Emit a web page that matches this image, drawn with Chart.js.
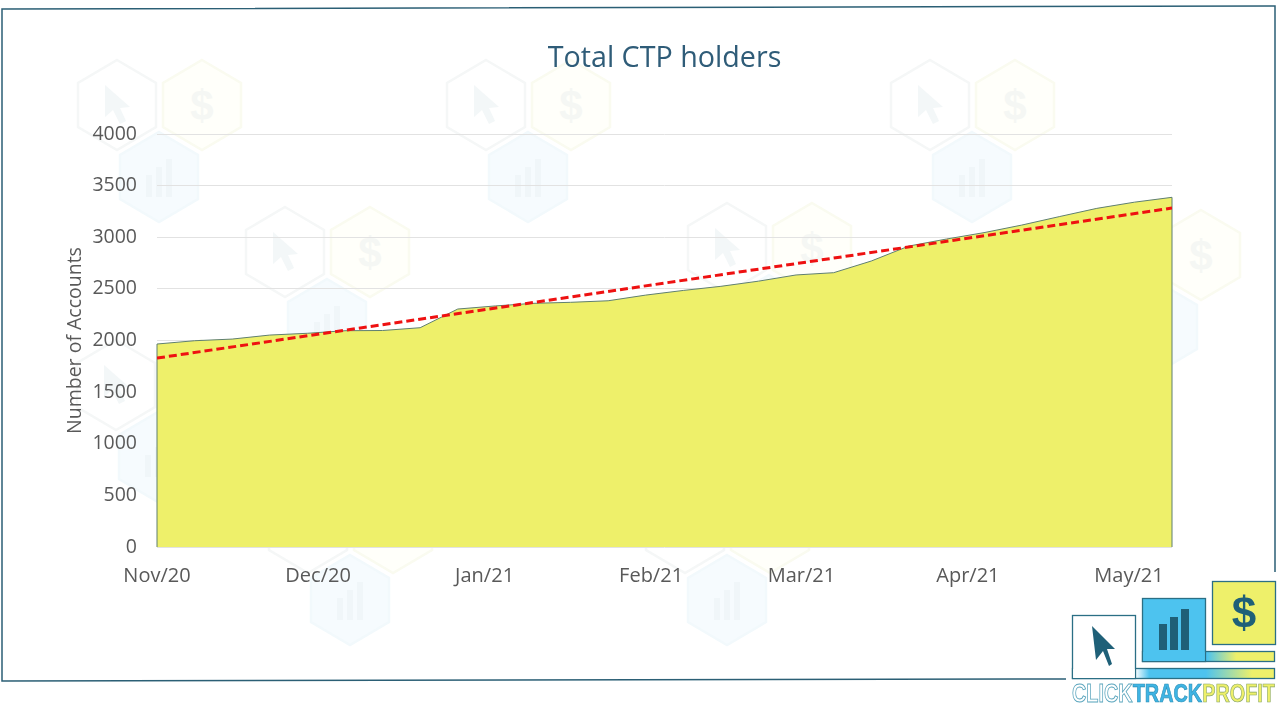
<!DOCTYPE html>
<html>
<head>
<meta charset="utf-8">
<title>Total CTP holders</title>
<script src="https://cdn.jsdelivr.net/npm/chart.js@4/dist/chart.umd.min.js"></script>
<style>
html,body{margin:0;padding:0;background:#fff;width:1280px;height:707px;overflow:hidden}
#bg,#fg{position:absolute;left:0;top:0}
#wrap{position:absolute;left:0;top:0;width:1280px;height:707px}
</style>
</head>
<body>
<svg id="bg" width="1280" height="707" viewBox="0 0 1280 707">
  <defs>
    <g id="hexc"><polygon points="0,-45 39,-22 39,22 0,45 -39,22 -39,-22" fill="#fff" stroke="#f5f7f7" stroke-width="2.5"/>
      <path d="M-12,-20 L-12,12 L-4,5 L3,19 L9,16 L3,3 L13,2 Z" fill="#f3f7f8"/></g>
    <g id="hexd"><polygon points="0,-45 39,-22 39,22 0,45 -39,22 -39,-22" fill="#fffffa" stroke="#fafbf0" stroke-width="2.5"/>
      <text x="0" y="15" text-anchor="middle" font-family="Liberation Sans" font-weight="bold" font-size="42" fill="#f5f7f4">$</text></g>
    <g id="hexb"><polygon points="0,-45 39,-22 39,22 0,45 -39,22 -39,-22" fill="#f6fbfe" stroke="#f2f9fc" stroke-width="2.5"/>
      <rect x="-13" y="-2" width="6" height="22" fill="#f0f6f9"/><rect x="-3" y="-10" width="6" height="30" fill="#f0f6f9"/><rect x="7" y="-18" width="6" height="38" fill="#f0f6f9"/></g>
    <g id="trio"><use href="#hexc" x="0" y="0"/><use href="#hexd" x="85" y="0"/><use href="#hexb" x="42" y="72"/></g>
  </defs>
  <use href="#trio" x="117" y="105"/>
  <use href="#trio" x="486" y="105"/>
  <use href="#trio" x="930" y="105"/>
  <use href="#trio" x="285" y="252"/>
  <use href="#trio" x="727" y="248"/>
  <use href="#trio" x="1116" y="255"/>
  <use href="#trio" x="116" y="385"/>
  <use href="#trio" x="308" y="528"/>
  <use href="#trio" x="685" y="528"/>
  <!-- frame -->
  <polyline points="1275,572 1275,6 2,9 2,681 1066,679" fill="none" stroke="#2b5f75" stroke-width="1.5"/>
</svg>
<div id="wrap"><canvas id="chart" width="1280" height="707"></canvas></div>
<svg id="fg" width="1280" height="707" viewBox="0 0 1280 707" style="pointer-events:none">
  <defs>
    <linearGradient id="band1" x1="0" x2="1" y1="0" y2="0"><stop offset="0.31" stop-color="#fff"/><stop offset="0.38" stop-color="#4dc3ef"/><stop offset="0.66" stop-color="#4dc3ef"/><stop offset="0.89" stop-color="#eef06a"/></linearGradient>
    <linearGradient id="band2" x1="0" x2="1" y1="0" y2="0"><stop offset="0.49" stop-color="#4dc3ef"/><stop offset="0.71" stop-color="#eef06a"/></linearGradient>
  </defs>
  <rect x="1072.5" y="668.5" width="202" height="10" fill="url(#band1)" stroke="#2b6f85" stroke-width="1.3"/>
  <rect x="1072.5" y="615.5" width="63" height="63" fill="#fff" stroke="#2b6f85" stroke-width="1.3"/>
  <rect x="1073.2" y="669" width="61.5" height="9" fill="#fff"/>
  <rect x="1142.5" y="651.5" width="132" height="10" fill="url(#band2)" stroke="#2b6f85" stroke-width="1.3"/>
  <rect x="1142.5" y="598.5" width="63" height="63" fill="#4dc3ef" stroke="#2b6f85" stroke-width="1.3"/>
  <rect x="1143.2" y="652" width="61.5" height="9" fill="#4dc3ef"/>
  <rect x="1212.5" y="581.5" width="63" height="63" fill="#eef06a" stroke="#2b6f85" stroke-width="1.3"/>
  <path d="M1092,626 L1096,660 L1103,651 L1109,666 L1112,664 L1107,649 L1115,649 Z" fill="#1f6078"/>
  <rect x="1159" y="624" width="8" height="26" fill="#1f6078"/><rect x="1170" y="617" width="8" height="33" fill="#1f6078"/><rect x="1181" y="609" width="8" height="41" fill="#1f6078"/>
  <text x="1244" y="628" text-anchor="middle" font-family="Liberation Sans" font-weight="bold" font-size="44" fill="#1f6078">$</text>
  <text x="1072" y="702" font-family="Liberation Sans Narrow, Liberation Sans" font-weight="bold" font-size="25" textLength="203" lengthAdjust="spacingAndGlyphs"><tspan fill="#fff" stroke="#5aa5bd" stroke-width="0.9">CLICK</tspan><tspan fill="#3fb4e4" stroke="#2b8fb5" stroke-width="0.7">TRACK</tspan><tspan fill="#eef06a" stroke="#8aa76a" stroke-width="0.7">PROFIT</tspan></text>
</svg>
<script>
const weekDays = [0,7,14,21,28,35,42,49,56,63,70,77,84,91,98,105,112,119,126,133,140,147,154,161,168,175,182,189];
const holders = [1966,1998,2014,2053,2070,2095,2097,2124,2305,2335,2360,2370,2385,2440,2485,2525,2575,2635,2657,2770,2915,2983,3045,3118,3200,3280,3340,3387];
const trendDays = [0,189];
const trendValues = [1830,3283];
const monthDays = [0,30,61,92,120,151,181];
const monthLabels = ['Nov/20','Dec/20','Jan/21','Feb/21','Mar/21','Apr/21','May/21'];
const yTicks = [0,500,1000,1500,2000,2500,3000,3500,4000];

const toXY = (xs,ys)=>xs.map((x,i)=>({x:x,y:ys[i]}));
const font = "'Open Sans'";

// the area has thin dark sides in the original
const areaEdges = {
  id:'areaEdges',
  afterDatasetDraw(c,args){
    if(args.index!==0) return;
    const sx=c.scales.x, sy=c.scales.y, g=c.ctx;
    g.save(); g.strokeStyle='#5f7f70'; g.lineWidth=1; g.beginPath();
    [[weekDays[0],holders[0]],[weekDays[weekDays.length-1],holders[holders.length-1]]].forEach(p=>{
      g.moveTo(sx.getPixelForValue(p[0]),sy.getPixelForValue(0));
      g.lineTo(sx.getPixelForValue(p[0]),sy.getPixelForValue(p[1]));
    });
    g.stroke(); g.restore();
  }
};

new Chart(document.getElementById('chart').getContext('2d'),{
  type:'line',
  data:{datasets:[
    {data:toXY(weekDays,holders),order:2,borderColor:'#5f7f70',borderWidth:1,backgroundColor:'#EEF06A',fill:'origin',pointRadius:0,tension:0},
    {data:toXY(trendDays,trendValues),order:1,borderColor:'#EE1111',borderWidth:3,borderDash:[8,4],fill:false,pointRadius:0,tension:0}
  ]},
  options:{
    responsive:false,animation:false,
    layout:{padding:{left:64,right:108,top:0,bottom:0}},
    plugins:{
      legend:{display:false},tooltip:{enabled:false},
      title:{display:true,text:'Total CTP holders',color:'#2F5C78',fullSize:false,font:{family:font,size:28.7,weight:'normal'},padding:{top:42,bottom:57.6}}
    },
    scales:{
      x:{type:'linear',min:0,max:189,
        afterBuildTicks:s=>{s.ticks=monthDays.map(v=>({value:v}));},
        afterFit:s=>{s.height=160;},
        grid:{display:false},border:{display:false},
        ticks:{autoSkip:false,maxRotation:0,color:'#595959',font:{family:font,size:20},padding:9,
          callback:(v)=>monthLabels[monthDays.indexOf(v)]}
      },
      y:{min:0,max:4000,
        afterBuildTicks:s=>{s.ticks=yTicks.map(v=>({value:v}));},
        afterFit:s=>{s.width=93;},
        grid:{color:'#E2E2E2',lineWidth:1,drawTicks:false},border:{display:false},
        ticks:{color:'#595959',font:{family:font,size:19.5},padding:20,callback:v=>String(v)},
        title:{display:true,text:'Number of Accounts',color:'#595959',font:{family:font,size:19.5},padding:{top:0,bottom:0}}
      }
    }
  },
  plugins:[areaEdges]
});
</script>
</body>
</html>
